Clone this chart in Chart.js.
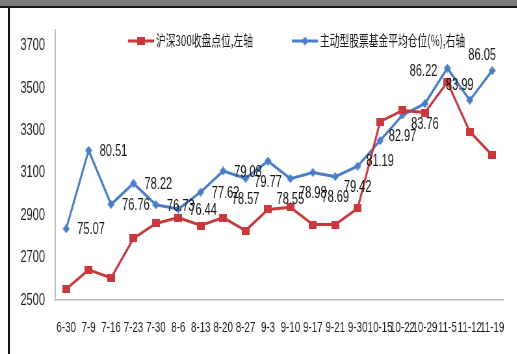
<!DOCTYPE html>
<html>
<head>
<meta charset="utf-8">
<script src="https://cdn.jsdelivr.net/npm/chart.js@4.4.0/dist/chart.umd.min.js"></script>
<style>
  html, body { margin: 0; padding: 0; background: #fff; }
  body { width: 517px; height: 354px; position: relative; overflow: hidden; }
  #wrap { position: absolute; left: 0; top: 0; width: 795px; height: 354px; transform: scaleX(0.65); transform-origin: 0 0; }
  .frame { position: absolute; z-index: 2; }
  #band { left: 0; top: 0; width: 517px; height: 6px; background: #7b7b7b; }
  #topLine { left: 0; top: 6px; width: 517px; height: 2px; background: #141414; }
  #leftLine { left: 8px; top: 6px; width: 2px; height: 348px; background: #141414; }
</style>
</head>
<body>
<div class="frame" id="band"></div>
<div class="frame" id="topLine"></div>
<div class="frame" id="leftLine"></div>
<div id="wrap"><canvas id="chart"></canvas></div>
<script>
const weeks = ['6-30', '7-9', '7-16', '7-23', '7-30', '8-6', '8-13', '8-20', '8-27', '9-3',
  '9-10', '9-17', '9-21', '9-30', '10-15', '10-22', '10-29', '11-5', '11-12', '11-19'];

// 沪深300 close (left axis)
const hs300 = [2552, 2642, 2604, 2790, 2861, 2889, 2851, 2889, 2827, 2927,
  2937, 2856, 2856, 2932, 3341, 3394, 3384, 3527, 3294, 3183];

// average equity position of active funds, % (right axis)
const fundPos = [75.07, 80.51, 76.76, 78.22, 76.73, 76.44, 77.62, 79.08, 78.57, 79.77,
  78.55, 78.98, 78.69, 79.42, 81.19, 82.97, 83.76, 86.22, 83.99, 86.05];

const hsTicks = [2500, 2700, 2900, 3100, 3300, 3500, 3700];

const legendNames = ['沪深300收盘点位,左轴', '主动型股票基金平均仓位(%),右轴'];

// where each value label sits next to its point: r = right, b = below, l = left, al = above-left
const labelPos = ['r', 'r', 'r', 'r', 'r', 'r', 'r', 'r', 'b', 'b',
  'b', 'b', 'b', 'b', 'b', 'b', 'b', 'l', 'al', 'al'];

const RED = '#c9383c';
const BLUE = '#4a7ec6';

// the whole chart is drawn wide and squeezed horizontally by CSS
const SX = 0.65;
const px = v => v / SX;

function makeMarker(w, h, color, shape) {
  const c = document.createElement('canvas');
  c.width = w;
  c.height = h;
  const g = c.getContext('2d');
  g.fillStyle = color;
  if (shape === 'diamond') {
    g.beginPath();
    g.moveTo(w / 2, 0);
    g.lineTo(w, h / 2);
    g.lineTo(w / 2, h);
    g.lineTo(0, h / 2);
    g.closePath();
    g.fill();
  } else {
    g.fillRect(0, 0, w, h);
  }
  return c;
}

const redMark = makeMarker(12, 8, RED, 'rect');
const blueMark = makeMarker(11, 9, BLUE, 'diamond');

const NARROW = '"Liberation Sans Narrow", "Liberation Sans", sans-serif';

const valueLabels = {
  id: 'valueLabels',
  afterDatasetsDraw(chart) {
    const ctx = chart.ctx;
    const meta = chart.getDatasetMeta(1);
    ctx.save();
    ctx.font = '17px ' + NARROW;
    ctx.fillStyle = '#161616';
    ctx.textBaseline = 'middle';
    meta.data.forEach((pt, i) => {
      let x = pt.x, y = pt.y, align = 'center';
      const p = labelPos[i];
      if (p === 'r') { x += px(11); y += 1; align = 'left'; }
      else if (p === 'b') { y += 21; }
      else if (p === 'l') { x -= px(10); y += 3; align = 'right'; }
      else if (p === 'al') { x -= px(10); y -= 15; }
      ctx.textAlign = align;
      ctx.fillText(fundPos[i].toFixed(2), x, y);
    });
    ctx.restore();
  }
};

const lineLegend = {
  id: 'lineLegend',
  afterDraw(chart) {
    const ctx = chart.ctx;
    const items = [
      { x: px(128), color: RED, mark: redMark, text: legendNames[0] },
      { x: px(292), color: BLUE, mark: blueMark, text: legendNames[1] }
    ];
    const y = 41;
    ctx.save();
    items.forEach(it => {
      ctx.strokeStyle = it.color;
      ctx.lineWidth = 3;
      ctx.beginPath();
      ctx.moveTo(it.x, y);
      ctx.lineTo(it.x + px(26), y);
      ctx.stroke();
      ctx.drawImage(it.mark, it.x + px(13) - it.mark.width / 2, y - it.mark.height / 2);
      ctx.font = '15px "Noto Sans CJK SC", sans-serif';
      ctx.fillStyle = '#1a1a1a';
      ctx.textAlign = 'left';
      ctx.textBaseline = 'middle';
      ctx.fillText(it.text, it.x + px(28), y - 1);
    });
    ctx.restore();
  }
};

new Chart(document.getElementById('chart'), {
  type: 'line',
  data: {
    labels: weeks,
    datasets: [{
      label: legendNames[0],
      data: hs300,
      yAxisID: 'y',
      borderColor: RED,
      backgroundColor: RED,
      borderWidth: 3,
      pointStyle: redMark,
      pointRadius: 5,
      tension: 0
    }, {
      label: legendNames[1],
      data: fundPos,
      yAxisID: 'y1',
      borderColor: BLUE,
      backgroundColor: BLUE,
      borderWidth: 3,
      pointStyle: blueMark,
      pointRadius: 5,
      tension: 0
    }]
  },
  options: {
    responsive: true,
    maintainAspectRatio: false,
    animation: false,
    layout: { padding: { top: 29.6, bottom: 17, left: 0, right: 0 } },
    plugins: {
      legend: { display: false },
      tooltip: { enabled: false }
    },
    scales: {
      x: {
        offset: true,
        afterFit: axis => { axis.height = 37; },
        grid: { display: false, drawTicks: false },
        border: { display: true, color: '#bdbdbd', width: 1.5 },
        ticks: {
          autoSkip: false,
          maxRotation: 0,
          minRotation: 0,
          padding: 19,
          color: '#1e1e1e',
          font: { family: NARROW, size: 15 }
        }
      },
      y: {
        position: 'left',
        min: 2500,
        max: 3775,
        afterBuildTicks: axis => { axis.ticks = hsTicks.map(v => ({ value: v })); },
        afterFit: axis => { axis.width = px(55); },
        grid: { display: false, drawTicks: false },
        border: { display: true, color: '#bdbdbd', width: 2 },
        ticks: {
          padding: px(10),
          color: '#1e1e1e',
          font: { family: NARROW, size: 17 },
          callback: v => String(v)
        }
      },
      y1: {
        display: false,
        min: 70.12,
        max: 88.9
      }
    }
  },
  plugins: [valueLabels, lineLegend]
});
</script>
</body>
</html>
